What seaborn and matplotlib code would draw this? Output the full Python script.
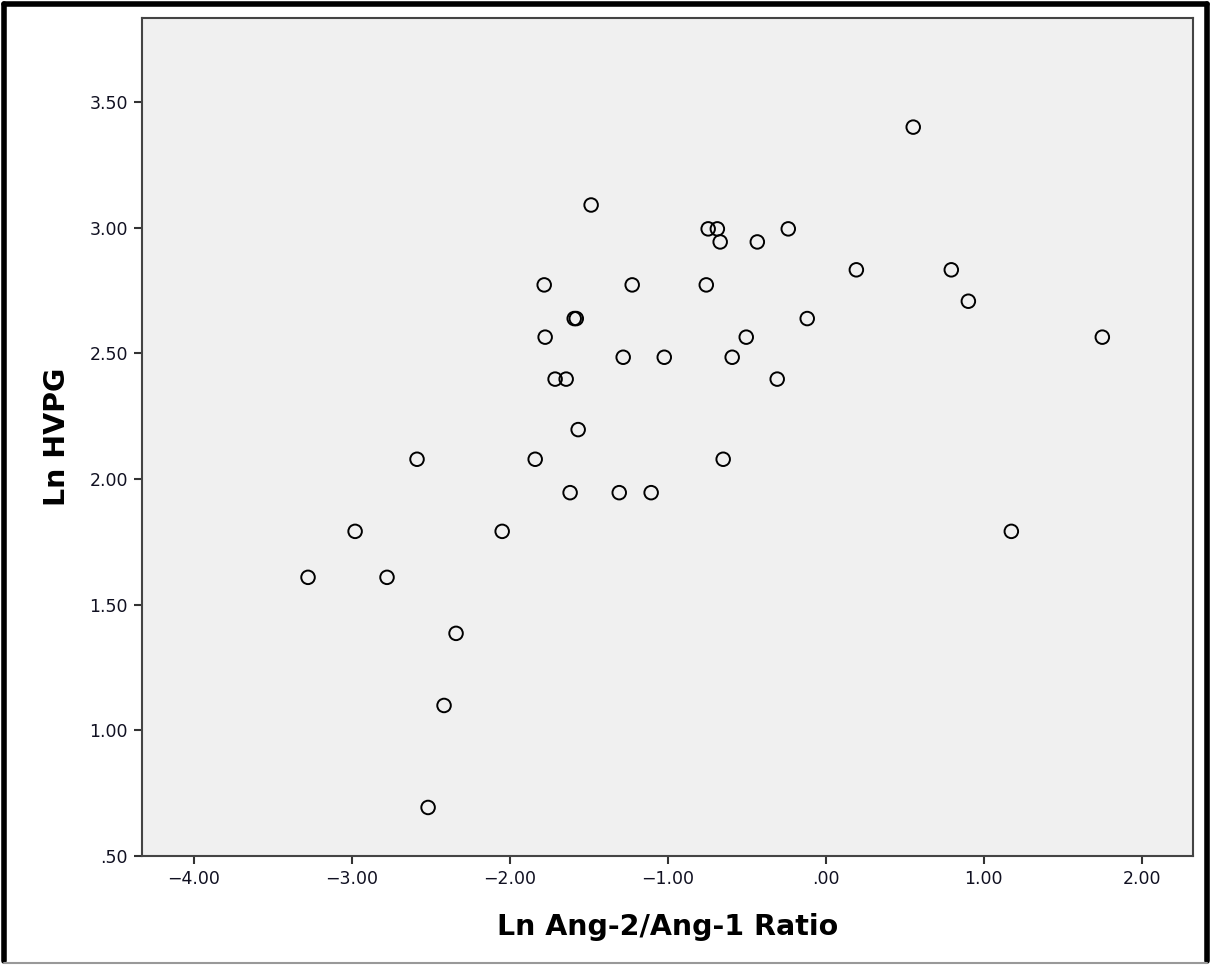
import matplotlib
matplotlib.use("Agg")
import matplotlib.pyplot as plt
import matplotlib.ticker as mticker
from matplotlib.lines import Line2D
import seaborn as sns
import pandas as pd

ln_ratio = [-3.278, -2.980, -2.778, -2.588, -2.341, -2.417, -2.518, -2.049, -1.840,
            -1.783, -1.777, -1.714, -1.644, -1.619, -1.593, -1.580, -1.568, -1.486,
            -1.308, -1.283, -1.226, -1.106, -1.023, -0.757, -0.745, -0.687, -0.669,
            -0.650, -0.593, -0.504, -0.434, -0.308, -0.238, -0.118, 0.193, 0.553,
            0.794, 0.902, 1.174, 1.750]
ln_hvpg = [1.609, 1.792, 1.609, 2.079, 1.386, 1.099, 0.693, 1.792, 2.079,
           2.773, 2.565, 2.398, 2.398, 1.946, 2.639, 2.639, 2.197, 3.091,
           1.946, 2.485, 2.773, 1.946, 2.485, 2.773, 2.996, 2.996, 2.944,
           2.079, 2.485, 2.565, 2.944, 2.398, 2.996, 2.639, 2.833, 3.401,
           2.833, 2.708, 1.792, 2.565]

x_ticks = [-4.0, -3.0, -2.0, -1.0, 0.0, 1.0, 2.0]
y_ticks = [0.5, 1.0, 1.5, 2.0, 2.5, 3.0, 3.5]

df = pd.DataFrame({"x": ln_ratio, "y": ln_hvpg})

sns.set_theme(style="white")
plt.rcParams['font.family'] = ['DejaVu Sans']

fig = plt.figure(figsize=(12.11, 9.65), dpi=100)
ax = fig.add_axes([0.117, 0.1130, 0.868, 0.868])
ax.set_facecolor("#f0f0f0")

sns.scatterplot(data=df, x="x", y="y", ax=ax, marker="o", s=95,
                facecolor="none", edgecolor="black", linewidth=1.4)

ax.set_xlim(-4.331, 2.323)
ax.set_ylim(0.5, 3.834)
ax.set_xticks(x_ticks)
ax.set_yticks(y_ticks)

def fmt(v, pos):
    s = f"{abs(v):.2f}"
    if s.startswith("0"):
        s = s[1:]
    return ("\u2212" + s) if v < -1e-9 else s

ax.xaxis.set_major_formatter(mticker.FuncFormatter(fmt))
ax.yaxis.set_major_formatter(mticker.FuncFormatter(fmt))

for sp in ax.spines.values():
    sp.set_color("#444444")
    sp.set_linewidth(1.5)
    sp.set_visible(True)

ax.tick_params(axis="both", which="major", direction="out", length=6, width=1.5,
               color="#333333", labelsize=12.5, labelcolor="#111122", pad=4,
               bottom=True, left=True)

ax.set_xlabel("Ln Ang-2/Ang-1 Ratio", fontsize=20.5, fontweight="bold",
              labelpad=18, color="black")
ax.set_ylabel("Ln HVPG", fontsize=20.5, fontweight="bold", labelpad=13, color="black")

# outer frame: black on top/left/right, thin grey at bottom
W, H = 1211.0, 965.0
frame = [((4 / W, 4 / W), (4 / H, 1 - 4 / H), "black", 4),
         ((4 / W, 1 - 4 / W), (1 - 4 / H, 1 - 4 / H), "black", 4),
         ((1 - 4 / W, 1 - 4 / W), (4 / H, 1 - 4 / H), "black", 4),
         ((4 / W, 1 - 4 / W), (2 / H, 2 / H), "#999999", 1.5)]
for xs, ys, c, lw in frame:
    fig.add_artist(Line2D(xs, ys, transform=fig.transFigure, color=c, linewidth=lw))

fig.savefig("out.png", dpi=100, facecolor="white")
